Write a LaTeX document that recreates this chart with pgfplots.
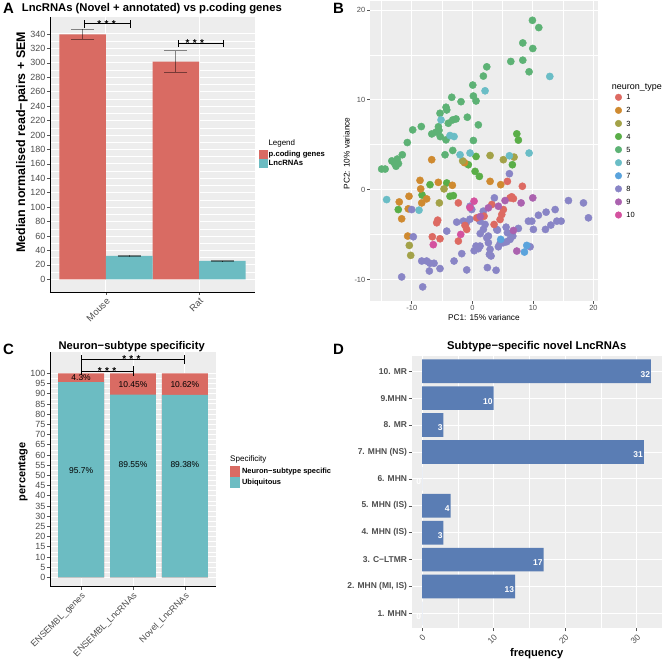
\documentclass[border=0pt]{standalone}
\usepackage{pgfplots}
\pgfplotsset{compat=1.18}
\usepackage{fontspec}
\setmainfont{Liberation Sans}
\newcommand{\fs}[1]{\fontsize{#1}{#1}\selectfont}
\definecolor{cRed}{HTML}{D96B63}
\definecolor{cCyan}{HTML}{6CBCC2}
\definecolor{cBlue}{HTML}{5A7DB4}
\definecolor{panelbg}{HTML}{EDEDED}
\definecolor{txtgray}{HTML}{4D4D4D}
\definecolor{tickcol}{HTML}{555555}
\definecolor{t1}{HTML}{DD6A62}
\definecolor{t2}{HTML}{CF8A30}
\definecolor{t3}{HTML}{A3A248}
\definecolor{t4}{HTML}{5AAE48}
\definecolor{t5}{HTML}{5DB275}
\definecolor{t6}{HTML}{6ABDC6}
\definecolor{t7}{HTML}{5AA3DC}
\definecolor{t8}{HTML}{8985C6}
\definecolor{t9}{HTML}{AB62AF}
\definecolor{t10}{HTML}{D4529F}
\pgfplotsset{
  gg/.style={scale only axis, anchor=south west,
    axis background/.style={fill=panelbg},
    grid=both, major grid style={white, line width=0.9bp},
    minor grid style={white, line width=0.45bp},
    tick align=outside, major tick length=3bp, minor tick length=0pt,
    every tick/.style={tickcol, line width=0.6bp},
    /pgf/number format/assume math mode=true,
    tick label style={text=txtgray},
    legend cell align=left,
  },
  leg/.style={legend style={draw=none, fill=none, inner sep=0pt, outer sep=0pt,
    column sep=0pt, row sep=#1,
    nodes={inner sep=0pt, outer sep=0pt, text height=6.5bp, text depth=1.5bp, anchor=base west}}},
}
\begin{document}
\begin{tikzpicture}
\useasboundingbox (0,0) rectangle (664bp,662bp);

% ================= Panel A =================
\node[anchor=base west, font=\fs{15}\bfseries, inner sep=0] at (3bp,648.5bp) {A};
\node[anchor=base west, font=\fs{11.3}\bfseries, inner sep=0] at (21.7bp,650bp) {LncRNAs (Novel + annotated) vs p.coding genes};
\begin{axis}[gg, at={(50bp,370bp)}, width=205bp, height=275bp,
  xmin=0.4, xmax=2.6, ymin=-17.6, ymax=363.5,
  axis lines*=left, axis line style={black, line width=0.7bp},
  xtick={1,2}, xticklabels={Mouse,Rat}, minor x tick num=0,
  ytick={0,20,...,340}, minor y tick num=1,
  xticklabel style={rotate=45, anchor=north east, font=\fs{9.5}, inner sep=1.5bp},
  yticklabel style={font=\fs{9}, inner sep=1.5bp},
  ylabel={Median normalised read−pairs + SEM},
  ylabel style={font=\fs{12.5}\bfseries, at={(axis description cs:-0.137,0.544)}, anchor=center},
  leg=0.5bp,
  legend style={at={(1.021,0.516)}, anchor=north west, font=\fs{7.7}\bfseries},
  ]
  \addplot[ybar, bar width=0.5, bar shift=-0.25, fill=cRed, draw=none, forget plot] coordinates {(1,339.5) (2,301.6)};
  \addplot[ybar, bar width=0.5, bar shift=0.25, fill=cCyan, draw=none, forget plot] coordinates {(1,32.3) (2,25.4)};
  \addplot[draw=none, mark=none, forget plot, error bars/.cd, y dir=both, y explicit,
    error bar style={black, opacity=0.45, line width=0.7bp},
    error mark options={black, opacity=0.45, line width=0.7bp, mark size=11.7bp, rotate=90}]
    coordinates {(0.75,339.5) +- (0,7) (1.75,301.6) +- (0,15) (1.25,32.3) +- (0,0.8) (2.25,25.4) +- (0,0.6)};
  % significance brackets
  \addplot[black, line width=1bp, forget plot] coordinates {(0.775,348.5) (0.775,359.1)};
  \addplot[black, line width=1bp, forget plot] coordinates {(0.775,353.8) (1.265,353.8)};
  \addplot[black, line width=1bp, forget plot] coordinates {(1.265,348.5) (1.265,359.1)};
  \addplot[black, line width=1bp, forget plot] coordinates {(1.774,321.7) (1.774,332.3)};
  \addplot[black, line width=1bp, forget plot] coordinates {(1.774,327) (2.264,327)};
  \addplot[black, line width=1bp, forget plot] coordinates {(2.264,321.7) (2.264,332.3)};
  \node[anchor=base, font=\fs{10}\bfseries, inner sep=0, yshift=-3.3bp] at (axis cs:1.007,353.8) {*\,\,*\,\,*};
  \node[anchor=base, font=\fs{10}\bfseries, inner sep=0, yshift=-3.3bp] at (axis cs:1.954,327) {*\,\,*\,\,*};
  \addlegendimage{legend image code/.code={\fill[cRed] (0bp,-1.5bp) rectangle (8bp,6.5bp); \path (9bp,0bp);}}
  \addlegendentry{p.coding genes}
  \addlegendimage{legend image code/.code={\fill[cCyan] (0bp,-1.5bp) rectangle (8bp,6.5bp); \path (9bp,0bp);}}
  \addlegendentry{LncRNAs}
\end{axis}
\node[anchor=base west, font=\fs{8}, inner sep=0] at (268.3bp,516bp) {Legend};

% ================= Panel B =================
\node[anchor=base west, font=\fs{15}\bfseries, inner sep=0] at (333bp,648.5bp) {B};
\begin{axis}[gg, at={(370bp,361bp)}, width=228.3bp, height=300bp,
  xmin=-16.9, xmax=20.8, ymin=-12.4, ymax=21.0,
  axis line style={draw=none}, tick pos=left,
  xtick={-10,0,10,20}, xticklabels={-10,0,10,20}, minor xtick={-15,-5,5,15},
  ytick={-10,0,10,20}, yticklabels={-10,0,10,20}, minor ytick={-5,5,15},
  xticklabel style={font=\fs{7.5}, inner sep=1.5bp},
  yticklabel style={font=\fs{7.5}, inner sep=1.5bp},
  xlabel={PC1: 15\% variance}, ylabel={PC2: 10\% variance},
  xlabel style={font=\fs{8.3}, at={(axis description cs:0.499,-0.056)}, anchor=center},
  ylabel style={font=\fs{8.3}, at={(axis description cs:-0.102,0.492)}, anchor=center},
  leg=5.08bp,
  legend style={at={(1.0731,0.692)}, anchor=north west, font=\fs{7.5}},
  ]
  \addplot[only marks, mark=*, mark size=3.6bp, color=t5, forget plot] coordinates {
  (9.92,18.85) (10.97,18.04) (8.33,16.33) (9.98,15.71) (6.35,14.27) (8.33,14.41) (9.37,13.12)
  (2.38,13.67) (1.82,12.64) (0.07,11.64) (0.17,10.42) (0.61,9.87) (-3.40,10.28) (-1.87,9.79)
  (-4.35,9.17) (-4.23,8.87) (-5.34,8.50) (-3.24,7.76) (-2.69,7.87) (-3.97,7.39) (-0.83,8.06)
  (0.99,7.21) (-6.7,6.2) (-6.0,6.4) (-5.5,6.6) (-5.3,5.9) (-5.6,7.0) (-8.43,7.02) (-9.85,6.65)
  (-4.35,5.54) (0.17,5.47) (-10.74,5.24) (-11.57,3.88) (-12.9,2.99) (-12.4,3.4) (-12.6,2.6)
  (-13.3,3.2) (-12.2,2.9) (-14.98,2.29) (-14.4,2.29) (-4.51,3.88) (-3.24,4.36)};
  \addplot[only marks, mark=*, mark size=3.6bp, color=t4, forget plot] coordinates {
  (7.34,6.21) (7.6,5.51) (0.61,3.69) (-0.66,2.77) (0.45,2.03) (1.16,1.47) (6.61,2.77)
  (-6.99,0.55) (-4.23,0.74) (-3.69,-0.74) (-3.14,-0.67) (-8.3,-0.6) (-12.23,-2.22)};
  \addplot[only marks, mark=*, mark size=3.6bp, color=t2, forget plot] coordinates {
  (-6.71,3.33) (2.93,0.92) (-8.64,1.03) (-8.53,0.08) (-5.62,0.81) (-3.3,0.48) (-7.54,-1.03)
  (-8.36,-1.48) (-10.46,-0.74) (-12.07,-1.37) (-10.58,-2.14) (-11.67,-3.25) (-10.68,-5.17)
  (4.69,0.55) (-1.3,3.0)};
  \addplot[only marks, mark=*, mark size=3.6bp, color=t3, forget plot] coordinates {
  (2.93,3.8) (5.12,3.33) (6.89,3.62) (-4.68,0.08) (-5.45,-1.48) (-10.41,-6.21) (-10.18,-7.32) (-1.6,3.2)};
  \addplot[only marks, mark=*, mark size=3.6bp, color=t6, forget plot] coordinates {
  (2.1,11.0) (12.79,12.6) (-5.17,7.76) (-3.69,6.02) (-3.02,5.91) (-2.03,3.88) (-0.38,4.07)
  (6.12,3.77) (9.37,4.07) (-14.15,-1.11) (-8.81,-2.29)};
  \addplot[only marks, mark=*, mark size=3.6bp, color=t8, forget plot] coordinates {
  (-10.02,-2.22) (-2.58,-3.62) (-0.38,-1.85) (-0.1,-2.22) (-1.49,-3.51) (-4.23,-4.62) (-9.75,-5.25)
  (-8.36,-7.95) (-7.54,-7.95) (-6.99,-8.2) (-6.33,-8.2) (-5.34,-8.79) (-7.1,-9.06) (-11.67,-9.72)
  (-8.2,-10.83) (-3.02,-7.95) (-1.75,-7.13) (-0.93,-8.94) (0.61,-6.28) (0.99,-6.58) (1.27,-6.28)
  (2.48,-8.68) (3.92,-8.98) (1.82,-4.43) (2.1,-3.88) (2.65,-5.17) (2.81,-7.21) (6.12,1.77)
  (3.64,-0.92) (1.27,-3.51) (4.13,-4.51) (5.57,-4.18) (5.79,-4.8) (7.6,-4.32) (9.54,-6.36)
  (4.58,-5.99) (5.12,-5.91) (5.68,-5.8) (6.23,-5.54) (6.68,-5.17) (4.3,-6.36) (2.38,-5.36)
  (2.65,-5.91) (2.93,-6.65) (3.09,-7.39) (9.26,-3.51) (9.82,-3.51) (10.08,-4.43) (10.91,-2.85)
  (12.18,-2.51) (12.07,-4.43) (12.96,-3.95) (13.67,-2.22) (13.95,-3.51) (14.66,-3.51)
  (15.87,-1.22) (18.35,-1.48) (19.17,-3.14) (4.03,-4.43) (-1.0,-3.7) (-0.4,-3.3) (1.8,-2.4)
  (0.3,-6.8) (1.3,-4.9)};
  \addplot[only marks, mark=*, mark size=3.6bp, color=t1, forget plot] coordinates {
  (-2.31,-1.48) (-5.72,-3.40) (-5.88,-3.69) (0.73,-3.14) (-1.21,-3.99) (-0.93,-4.43) (-6.61,-5.25)
  (-5.34,-5.47) (-2.31,-5.73) (5.79,0.92) (8.26,0.37) (6.23,-0.92) (6.78,-1.0) (6.5,-0.8)
  (3.21,-1.66) (5.12,-2.22) (4.86,-2.77) (4.58,-3.33) (1.93,-2.96) (3.59,-3.88)};
  \addplot[only marks, mark=*, mark size=3.6bp, color=t9, forget plot] coordinates {
  (5.4,-1.22) (8.05,-1.48) (9.98,-0.92) (2.65,-2.03) (4.3,-1.85) (6.78,-4.55) (7.34,-6.84) (1.3,-3.0)};
  \addplot[only marks, mark=*, mark size=3.6bp, color=t10, forget plot] coordinates {
  (0.28,-1.29) (-1.92,-4.99) (-6.45,-6.13) (-0.4,-2.0)};
  \addplot[only marks, mark=*, mark size=3.6bp, color=t7, forget plot] coordinates {
  (8.99,-6.21) (8.6,-6.95) (4.69,-5.54)};
  \addlegendimage{legend image code/.code={\fill[t1] (3.3bp,2.6bp) circle (3.3bp); \path (11bp,0bp);}}\addlegendentry{1}
  \addlegendimage{legend image code/.code={\fill[t2] (3.3bp,2.6bp) circle (3.3bp); \path (11bp,0bp);}}\addlegendentry{2}
  \addlegendimage{legend image code/.code={\fill[t3] (3.3bp,2.6bp) circle (3.3bp); \path (11bp,0bp);}}\addlegendentry{3}
  \addlegendimage{legend image code/.code={\fill[t4] (3.3bp,2.6bp) circle (3.3bp); \path (11bp,0bp);}}\addlegendentry{4}
  \addlegendimage{legend image code/.code={\fill[t5] (3.3bp,2.6bp) circle (3.3bp); \path (11bp,0bp);}}\addlegendentry{5}
  \addlegendimage{legend image code/.code={\fill[t6] (3.3bp,2.6bp) circle (3.3bp); \path (11bp,0bp);}}\addlegendentry{6}
  \addlegendimage{legend image code/.code={\fill[t7] (3.3bp,2.6bp) circle (3.3bp); \path (11bp,0bp);}}\addlegendentry{7}
  \addlegendimage{legend image code/.code={\fill[t8] (3.3bp,2.6bp) circle (3.3bp); \path (11bp,0bp);}}\addlegendentry{8}
  \addlegendimage{legend image code/.code={\fill[t9] (3.3bp,2.6bp) circle (3.3bp); \path (11bp,0bp);}}\addlegendentry{9}
  \addlegendimage{legend image code/.code={\fill[t10] (3.3bp,2.6bp) circle (3.3bp); \path (11bp,0bp);}}\addlegendentry{10}
\end{axis}
\node[anchor=base west, font=\fs{9}, inner sep=0] at (611.7bp,572.7bp) {neuron\_type};

% ================= Panel C =================
\node[anchor=base west, font=\fs{15}\bfseries, inner sep=0] at (3bp,307bp) {C};
\node[anchor=base, font=\fs{11.2}\bfseries, inner sep=0] at (131.7bp,312bp) {Neuron−subtype specificity};
\begin{axis}[gg, at={(50bp,75.3bp)}, width=166bp, height=235bp,
  xmin=0.4, xmax=3.6, ymin=-4.6, ymax=110.6,
  axis lines*=left, axis line style={black, line width=0.7bp},
  xtick={1,2,3}, xticklabels={ENSEMBL\_genes,ENSEMBL\_LncRNAs,Novel\_LncRNAs}, minor x tick num=0,
  ytick={0,5,...,100}, minor y tick num=1,
  xticklabel style={rotate=45, anchor=north east, font=\fs{9}, inner sep=1.5bp},
  yticklabel style={font=\fs{9}, inner sep=1.5bp},
  ylabel={percentage},
  ylabel style={font=\fs{11}\bfseries, at={(axis description cs:-0.163,0.489)}, anchor=center},
  leg=0.5bp,
  legend style={at={(1.084,0.5136)}, anchor=north west, font=\fs{7.5}\bfseries},
  ]
  \addplot[ybar, bar width=0.885, bar shift=0, fill=cRed, draw=none, forget plot] coordinates {(1,100) (2,100) (3,100)};
  \addplot[ybar, bar width=0.885, bar shift=0, fill=cCyan, draw=none, forget plot] coordinates {(1,95.7) (2,89.55) (3,89.38)};
  \addplot[black, line width=1bp, forget plot] coordinates {(1,99.2) (1,108.9)};
  \addplot[black, line width=1bp, forget plot] coordinates {(1,106.9) (3,106.9)};
  \addplot[black, line width=1bp, forget plot] coordinates {(3,104.5) (3,108.9)};
  \addplot[black, line width=1bp, forget plot] coordinates {(1,101.1) (2,101.1)};
  \addplot[black, line width=1bp, forget plot] coordinates {(2,98.7) (2,103.6)};
  \node[anchor=base, font=\fs{10}\bfseries, inner sep=0, yshift=-3.3bp] at (axis cs:1.5,101.1) {*\,\,*\,\,*};
  \node[anchor=base, font=\fs{10}\bfseries, inner sep=0, yshift=-3.3bp] at (axis cs:1.97,106.9) {*\,\,*\,\,*};
  \node[font=\fs{8.5}, inner sep=0] at (axis cs:1,97.8) {4.3\%};
  \node[font=\fs{8.5}, inner sep=0] at (axis cs:2,94.7) {10.45\%};
  \node[font=\fs{8.5}, inner sep=0] at (axis cs:3,94.7) {10.62\%};
  \node[font=\fs{8.5}, inner sep=0] at (axis cs:1,52.1) {95.7\%};
  \node[font=\fs{8.5}, inner sep=0] at (axis cs:2,55.05) {89.55\%};
  \node[font=\fs{8.5}, inner sep=0] at (axis cs:3,55.05) {89.38\%};
  \addlegendimage{legend image code/.code={\fill[cRed] (0bp,-2.5bp) rectangle (9.3bp,7.5bp); \path (11.7bp,0bp);}}
  \addlegendentry{Neuron−subtype specific}
  \addlegendimage{legend image code/.code={\fill[cCyan] (0bp,-2.5bp) rectangle (9.3bp,7.5bp); \path (11.7bp,0bp);}}
  \addlegendentry{Ubiquitous}
\end{axis}
\node[anchor=base west, font=\fs{8.1}, inner sep=0] at (230bp,200bp) {Specificity};

% ================= Panel D =================
\node[anchor=base west, font=\fs{15}\bfseries, inner sep=0] at (333bp,307bp) {D};
\node[anchor=base, font=\fs{11.3}\bfseries, inner sep=0] at (536.7bp,312.7bp) {Subtype−specific novel LncRNAs};
\begin{axis}[gg, at={(411.7bp,33.7bp)}, width=250bp, height=271.9bp,
  xmin=-1.44, xmax=33.5, ymin=0.45, ymax=10.55,
  axis line style={draw=none}, tick pos=left,
  xtick={0,10,20,30}, minor xtick={5,15,25},
  ytick={1,...,10}, minor y tick num=0,
  yticklabels={1. MHN,{2. MHN (MI, IS)},3. C−LTMR,4. MHN (IS),5. MHN (IS),6. MHN,7. MHN (NS),8. MR,9.MHN,10. MR},
  xticklabel style={rotate=45, anchor=north east, font=\fs{8.5}, inner sep=1.5bp},
  yticklabel style={font=\fs{8.5}\bfseries, inner sep=1.5bp},
  xlabel={frequency},
  xlabel style={font=\fs{11.2}\bfseries, at={(axis description cs:0.5,-0.092)}, anchor=center},
  ]
  \addplot[xbar, bar width=0.88, bar shift=0, fill=cBlue, draw=none] coordinates {
    (0,1) (13,2) (17,3) (3,4) (4,5) (0,6) (31,7) (3,8) (10,9) (32,10)};
  \foreach \v/\k in {0/1,13/2,17/3,3/4,4/5,0/6,31/7,3/8,10/9,32/10}{
    \edef\temp{\noexpand\node[anchor=east, font=\noexpand\fs{8.5}\noexpand\bfseries, text=white, inner sep=0.8bp, yshift=-3bp] at (axis cs:\v,\k) {\v};}
    \temp
  }
\end{axis}
\end{tikzpicture}
\end{document}
